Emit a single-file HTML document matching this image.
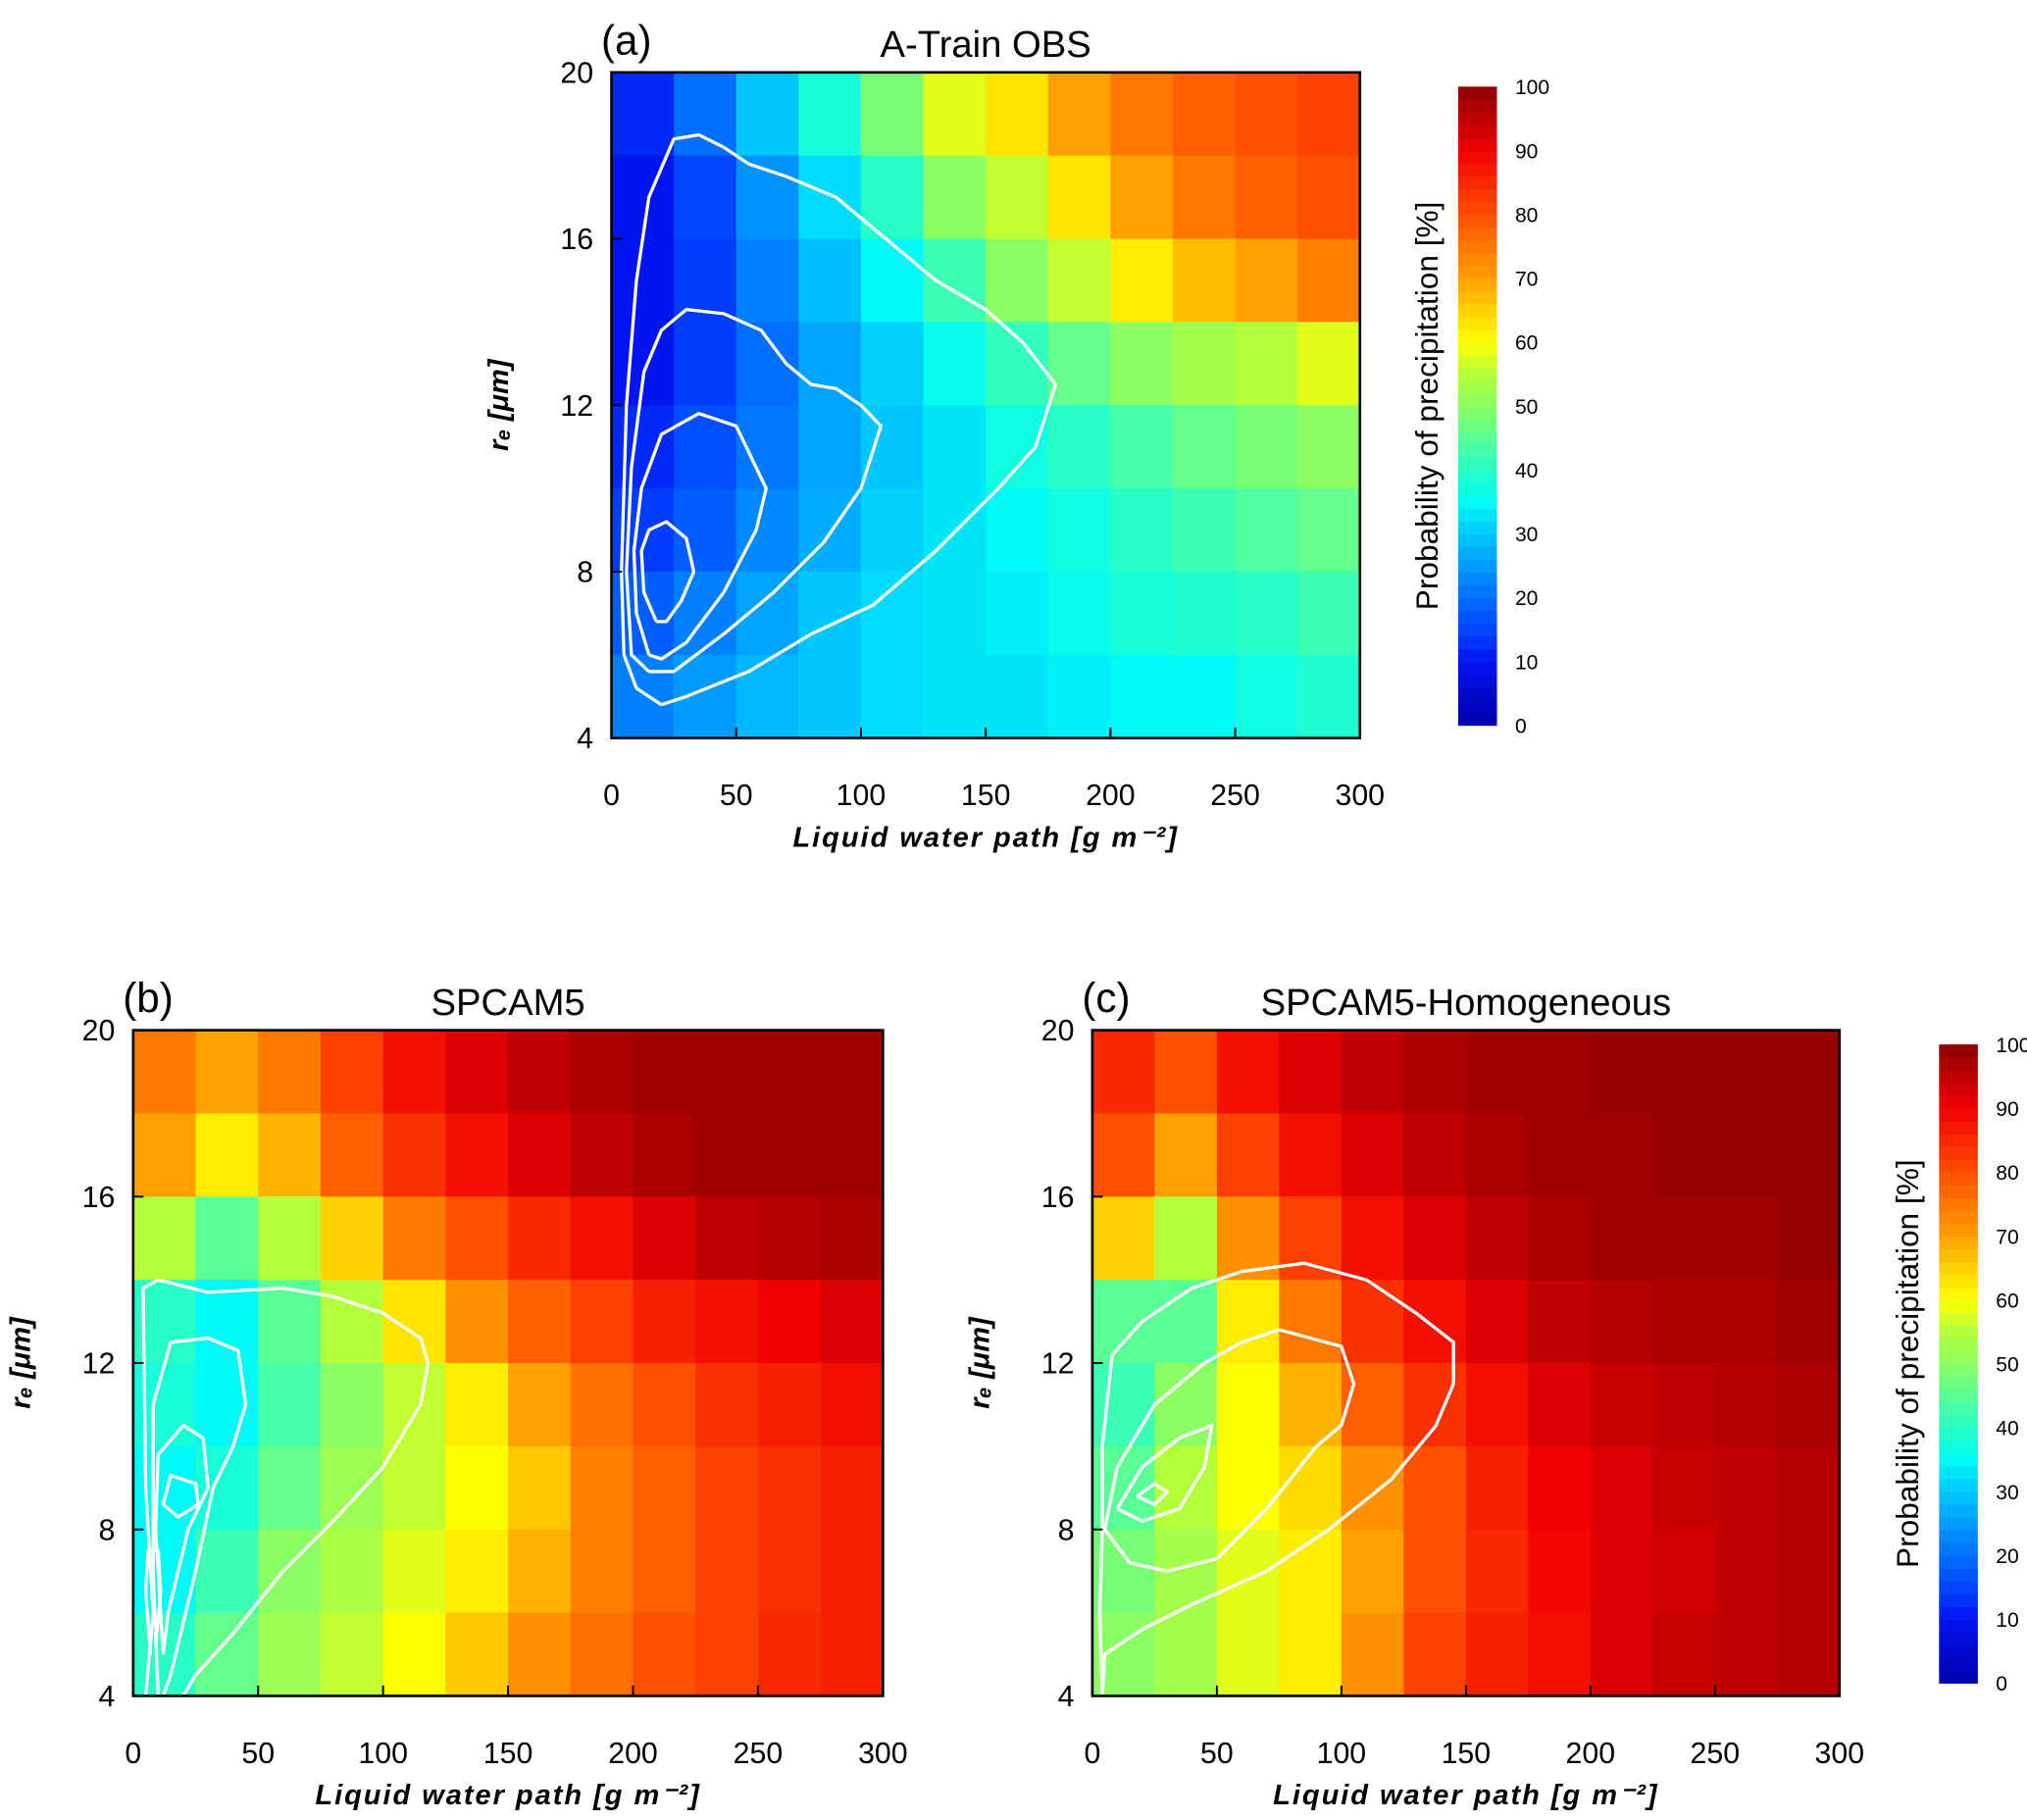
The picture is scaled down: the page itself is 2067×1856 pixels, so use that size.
<!DOCTYPE html>
<html><head><meta charset="utf-8"><style>html,body{margin:0;padding:0;background:#fff}svg{display:block}text{font-family:"Liberation Sans",sans-serif}</style></head>
<body>
<svg id="fig" width="2067" height="1856" viewBox="0 0 1568 1408" xmlns="http://www.w3.org/2000/svg"></svg>
<script>
// ---- data: LWP columns (bin starts, g m-2), re rows (bin starts, um, top to bottom) ----
const lwpBins = [0,25,50,75,100,125,150,175,200,225,250,275];
const reBins = [18,16,14,12,10,8,6,4];
const valuesA = [
 [12,20,30,38,48,58,63,70,75,78,80,82],
 [10,15,24,32,40,50,56,63,70,75,78,80],
 [10,14,22,29,35,42,50,56,62,67,70,74],
 [10,14,20,26,31,36,41,46,50,53,55,58],
 [12,16,21,26,30,33,37,40,43,46,48,50],
 [14,18,23,27,31,33,35,37,40,42,44,46],
 [18,22,26,30,32,33,34,36,38,39,40,42],
 [22,25,28,30,32,33,33,34,35,35,37,39]];
const valuesB = [
 [75,70,75,82,88,92,95,97,98,98,98,98],
 [70,62,68,78,84,88,92,95,97,98,98,98],
 [55,45,55,65,75,80,85,88,92,95,96,97],
 [40,35,45,55,63,72,78,82,86,88,90,92],
 [38,35,43,50,56,62,70,76,80,84,86,88],
 [35,38,46,52,56,60,66,74,78,82,84,86],
 [35,42,50,54,58,62,68,74,78,82,84,86],
 [40,46,52,56,60,66,72,76,80,82,85,86]];
const valuesC = [
 [85,80,88,92,95,97,98,98,99,99,99,99],
 [80,70,82,88,92,95,97,98,98,99,99,99],
 [65,55,72,82,88,92,95,97,98,98,98,99],
 [45,45,62,75,84,88,92,95,96,97,97,98],
 [42,50,60,68,78,84,88,92,94,95,96,97],
 [45,55,60,64,72,80,86,90,92,94,95,96],
 [48,53,58,62,70,80,85,89,92,93,95,96],
 [50,53,58,62,72,82,86,88,92,94,95,96]];
// contour lines: [lwp, re] pairs
const contoursA = [
 [[20,4.8],[10,5.2],[5,6],[4,8],[6,12],[10,15],[15,17],[25,18.4],[35,18.5],[45,18.2],[55,17.8],[70,17.5],[90,17],[110,16],[130,15],[150,14.3],[165,13.5],[178,12.5],[170,11],[155,10],[130,8.5],[105,7.2],[80,6.5],[55,5.6],[30,5],[20,4.8]],
 [[15,5.6],[8,6],[6,8],[8,10.5],[13,12.8],[20,13.8],[30,14.3],[45,14.2],[60,13.8],[70,13],[80,12.5],[90,12.4],[100,12],[108,11.5],[100,10],[85,8.7],[65,7.5],[45,6.5],[25,5.6],[15,5.6]],
 [[15,6],[10,7],[9,8.5],[12,10],[20,11.3],[35,11.8],[50,11.5],[58,10.5],[62,10],[58,9],[45,7.5],[30,6.3],[20,5.9],[15,6]],
 [[18,6.8],[13,7.5],[12,8.5],[15,9],[22,9.2],[30,8.8],[33,8],[28,7.3],[22,6.8],[18,6.8]]];
const contoursB = [
 [[5,4],[8,6],[5,9],[4,13.8],[10,14],[30,13.7],[60,13.8],[80,13.6],[100,13.2],[115,12.6],[118,12],[115,11],[100,9.5],[80,8.2],[60,7],[40,5.5],[25,4.5],[20,4]],
 [[10,4],[8,7],[8,11],[15,12.5],[30,12.6],[42,12.3],[45,11],[40,10],[32,9],[25,7],[15,4.5],[12,4]],
 [[12,5],[9,8],[10,9.8],[20,10.5],[28,10.2],[30,9],[22,8],[14,6],[12,5]],
 [[12,8.6],[15,9.3],[25,9.1],[26,8.6],[18,8.3],[12,8.6]],
 [[7,5],[5,6.5],[6,7.5],[10,7.5],[11,6.5],[9,5.2]]];
const contoursC = [
 [[4,4],[3,6],[4,8],[4,10],[8,12.2],[20,13],[40,13.8],[60,14.2],[85,14.4],[110,14],[130,13.2],[145,12.5],[145,11.5],[138,10.5],[120,9.2],[95,8],[70,7],[40,6.2],[20,5.6],[5,5],[4,4]],
 [[5,8],[10,9.5],[25,11],[45,12],[60,12.5],[75,12.8],[100,12.4],[105,11.5],[100,10.5],[90,10],[70,8.5],[50,7.3],[30,7],[15,7.2],[5,8]],
 [[10,8.5],[20,9.5],[35,10.2],[48,10.5],[45,9.5],[35,8.5],[20,8.2],[10,8.5]],
 [[18,8.8],[25,9.1],[30,8.9],[25,8.6],[18,8.8]]];
const xTicks = [0,50,100,150,200,250,300];
const yTicks = [4,8,12,16,20];
const cbTicks = [0,10,20,30,40,50,60,70,80,90,100];

const NS="http://www.w3.org/2000/svg";
const svg=document.getElementById('fig');
function el(tag,attrs,parent,txt){const e=document.createElementNS(NS,tag);for(const k in attrs)e.setAttribute(k,attrs[k]);if(txt!==undefined)e.textContent=txt;(parent||svg).appendChild(e);return e;}
const stops=[[0,0,0,170],[10,0,20,240],[15,0,70,255],[20,0,110,255],[30,0,200,255],[35,0,250,245],[40,40,255,200],[45,90,255,150],[50,140,255,100],[55,180,255,60],[60,255,255,0],[65,255,210,0],[70,255,160,0],[80,255,80,0],[90,240,0,0],[100,140,0,0]];
function cmap(v){v=Math.max(0,Math.min(100,v));for(let i=1;i<stops.length;i++){if(v<=stops[i][0]){const a=stops[i-1],b=stops[i],t=(v-a[0])/(b[0]-a[0]);return `rgb(${Math.round(a[1]+t*(b[1]-a[1]))},${Math.round(a[2]+t*(b[2]-a[2]))},${Math.round(a[3]+t*(b[3]-a[3]))})`;}}return 'rgb(140,0,0)';}

function panel(x0,y0,w,h,vals,conts,letter,title,name){
  const g=el('g',{}),sx=v=>x0+v/300*w,sy=v=>y0+h-(v-4)/16*h;
  
  
  const hm=el('g',{},g);
  
  
  reBins.forEach((r,ri)=>lwpBins.forEach((l,ci)=>{
    const c=el('rect',{x:sx(l),y:sy(r+2),width:sx(l+25)-sx(l)+0.5,height:sy(r)-sy(r+2)+0.5,fill:cmap(vals[ri][ci])},hm);
    
    
  }));
  conts.forEach(c=>{
    const p=el('polyline',{points:c.map(q=>sx(q[0])+','+sy(q[1])).join(' '),fill:'none',stroke:'#fff','stroke-width':2.5,'stroke-linejoin':'round'},g);
    
    
  });
  el('rect',{x:x0,y:y0,width:w,height:h,fill:'none',stroke:'#000','stroke-width':2},g);
  xTicks.forEach(t=>{el('line',{x1:sx(t),x2:sx(t),y1:y0+h,y2:y0+h-8,stroke:'#000','stroke-width':1.5},g);
    const tx=el('text',{x:sx(t),y:y0+h+52,'font-size':23,'text-anchor':'middle'},g,t);
    });
  yTicks.forEach(t=>{el('line',{x1:x0,x2:x0+8,y1:sy(t),y2:sy(t),stroke:'#000','stroke-width':1.5},g);
    const tx=el('text',{x:x0-14,y:sy(t)+8,'font-size':23,'text-anchor':'end'},g,t);
    });
  const xt=el('text',{x:x0+w/2,y:y0+h+84,'font-size':22,'text-anchor':'middle','font-style':'italic','font-weight':'bold','font-family':'Liberation Serif, serif','letter-spacing':1.5},g,'Liquid water path [g m⁻²]');
  
  const yt=el('text',{transform:`translate(${x0-80},${y0+h/2}) rotate(-90)`,'font-size':22,'text-anchor':'middle','font-style':'italic','font-weight':'bold','font-family':'Liberation Serif, serif'},g,'rₑ [μm]');
  
  const lt=el('text',{x:x0-8,y:y0-14,'font-size':32},g,letter);
  
  const tt=el('text',{x:x0+w/2,y:y0-12,'font-size':29,'text-anchor':'middle'},g,title);
  
}
function colorbar(x0,y0,w,h){
  const g=el('g',{});
  
  
  for(let i=0;i<50;i++){el('rect',{x:x0,y:y0+h-(i+1)*h/50,width:w,height:h/50+0.5,fill:cmap(i*2+1)},g);}
  cbTicks.forEach(t=>{const tx=el('text',{x:x0+w+14,y:y0+h-t/100*h+6,'font-size':16},g,t);
    });
  const tt=el('text',{transform:`translate(${x0-16},${y0+h/2}) rotate(-90)`,'font-size':24,'text-anchor':'middle'},g,'Probability of precipitation [%]');
  
}
panel(473,56,579,515,valuesA,contoursA,'(a)','A-Train OBS','panel-a');
panel(103,797,580,515,valuesB,contoursB,'(b)','SPCAM5','panel-b');
panel(845,797,578,515,valuesC,contoursC,'(c)','SPCAM5-Homogeneous','panel-c');
colorbar(1128,67,30,494);
colorbar(1500,808,30,494);
</script>
</body></html>
